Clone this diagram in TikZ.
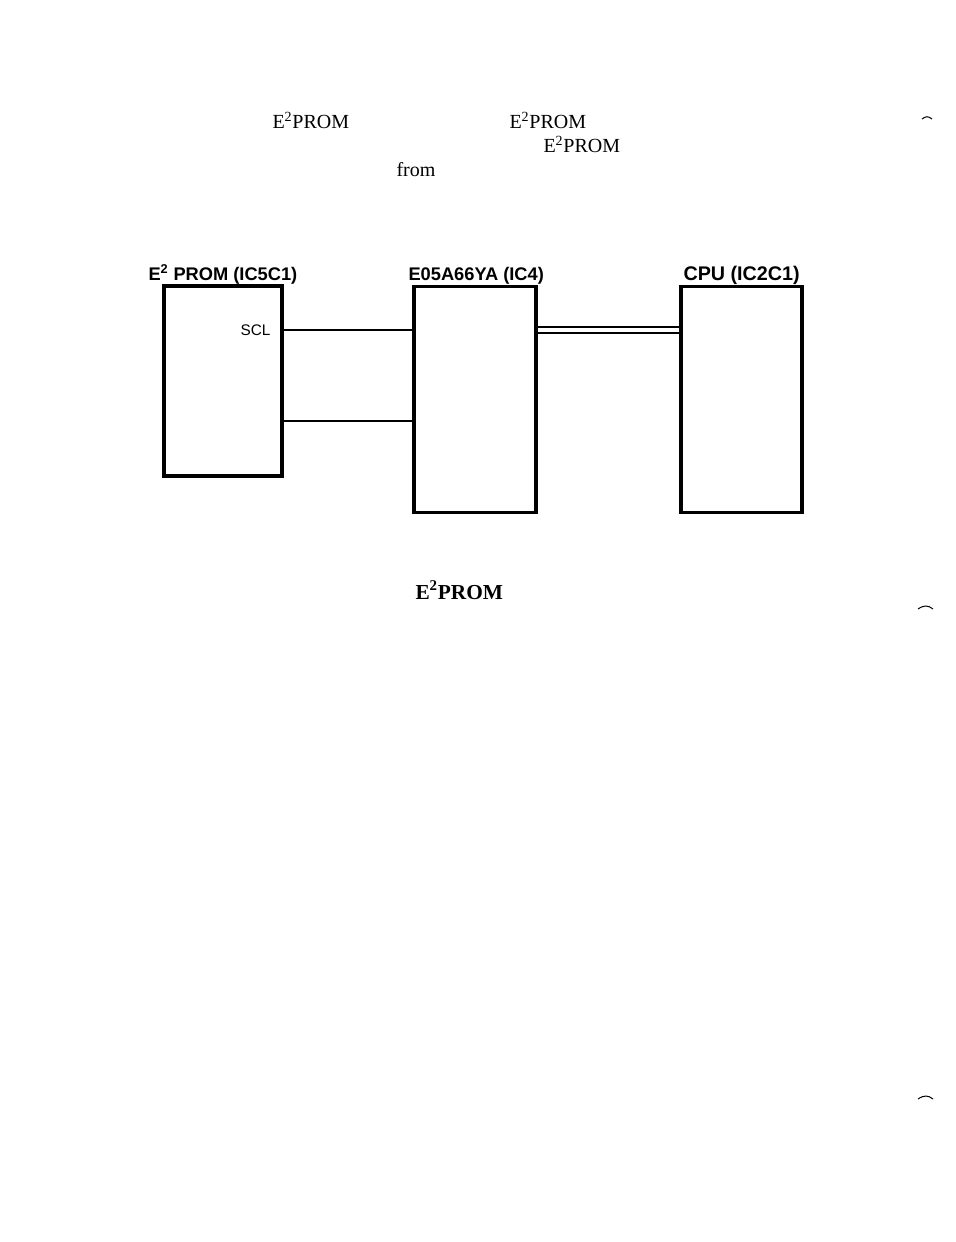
\documentclass[tikz,border=0pt]{standalone}
\usepackage{fontspec}
\setmainfont{Liberation Serif}
\setsansfont{Liberation Sans}
\usetikzlibrary{positioning}

\tikzset{every picture/.style={line width=0.75pt}}
\tikzset{
	chip/.style={draw, line width=2.3pt, inner sep=0pt},
	wire/.style={line width=1.5pt},
	bus/.style={double, double distance=3pt, line width=1.4pt},
	chiplabel/.style={anchor=base west, inner sep=0pt, font=\fontsize{13.7}{16}\selectfont\sffamily\bfseries},
	pinlabel/.style={anchor=east, inner sep=0pt, font=\fontsize{11.5}{13}\selectfont\sffamily},
	bodytext/.style={anchor=base west, inner sep=0pt, font=\fontsize{15}{18}\selectfont}
}
\newcommand{\eeprom}{E\textsuperscript{2}PROM}

\begin{document}
\begin{tikzpicture}[x=0.75pt,y=0.75pt,yscale=-1,xscale=1]
	%page frame
	\useasboundingbox (0,0) rectangle (956,1242);
	
	%text above the figure
	\node[bodytext] (txta) at (272,128) {\eeprom};
	\node[bodytext] (txtb) at (509,128) {\eeprom};
	\node[bodytext] (txtc) at (543,152) {\eeprom};
	\node[bodytext] (txtd) at (396,176) {from};
	
	%Shape: chips
	\node[chip, minimum width=88.5pt, minimum height=142.5pt] (eprom) at (223,381) {};
	\node[chip, minimum width=91.5pt, minimum height=170pt] (gate) at (475,399.5) {};
	\node[chip, minimum width=90.75pt, minimum height=170pt] (cpu) at (741.5,399.5) {};
	
	\node[chiplabel] (lbleprom) at (148,280) {E\textsuperscript{2} PROM (IC5C1)};
	\node[chiplabel] (lblgate) at (408,280) {E05A66YA (IC4)};
	\node[chiplabel, font=\fontsize{14.8}{17}\selectfont\sffamily\bfseries] (lblcpu) at (683,280) {CPU (IC2C1)};
	\node[pinlabel] (scl) at (271,330) {SCL};
	
	%connectors
	\draw[wire] (scl.east -| eprom.east) -- (scl.east -| gate.west);
	\draw[wire] ([yshift=30pt]eprom.east) -- ([yshift=30pt]eprom.east -| gate.west);
	\draw[bus] (scl.east -| gate.east) -- (scl.east -| cpu.west);
	
	%text below the figure
	\node[bodytext, font=\fontsize{16}{18}\selectfont\bfseries] (txte) at (415,599) {\eeprom};
	
	%margin marks
	\draw (922,119) .. controls (926,116) and (928,116) .. (932,119);
	\draw (918,609) .. controls (924,605) and (928,605) .. (933,609);
	\draw (918,1099) .. controls (924,1095) and (928,1095) .. (933,1099);
	
\end{tikzpicture}
\end{document}
